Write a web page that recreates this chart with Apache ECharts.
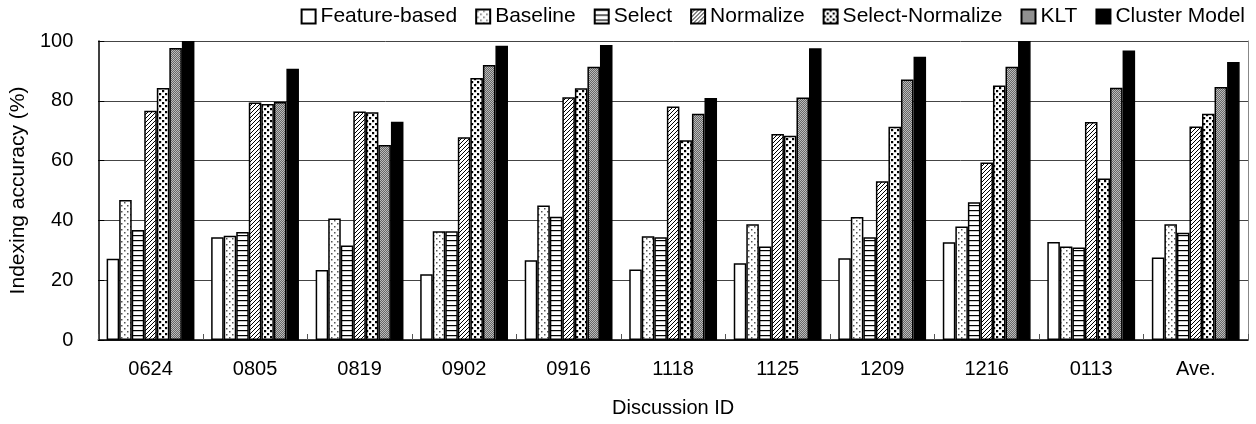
<!DOCTYPE html>
<html>
<head>
<meta charset="utf-8">
<script src="https://cdn.jsdelivr.net/npm/echarts@6/dist/echarts.min.js"></script>
<style>html,body{margin:0;padding:0;background:#fff;}#c{width:1256px;height:424px;}</style>
</head>
<body>
<div id="c"></div>
<script>
const categories = ['0624','0805','0819','0902','0916','1118','1125','1209','1216','0113','Ave.'];
const seriesNames = ['Feature-based','Baseline','Select','Normalize','Select-Normalize','KLT','Cluster Model'];
const featureBased    = [27.2, 34.4, 23.4, 22.0, 26.7, 23.6, 25.7, 27.3, 32.7, 32.8, 27.6];
const baseline        = [46.8, 34.9, 40.6, 36.4, 45.0, 34.7, 38.7, 41.1, 38.0, 31.3, 38.7];
const select          = [36.8, 36.1, 31.6, 36.4, 41.2, 34.4, 31.3, 34.4, 46.1, 30.9, 35.9];
const normalize       = [76.7, 79.4, 76.4, 67.8, 81.2, 78.1, 68.9, 53.1, 59.4, 72.9, 71.4];
const selectNormalize = [84.3, 78.9, 76.2, 87.6, 84.2, 66.8, 68.3, 71.3, 85.1, 54.0, 75.7];
const klt             = [97.7, 79.6, 65.2, 92.0, 91.4, 75.7, 81.1, 87.1, 91.4, 84.4, 84.6];
const clusterModel    = [100, 90.7, 73.0, 98.4, 98.7, 80.9, 97.6, 94.7, 100, 96.8, 93.0];
const yTicks = [0, 20, 40, 60, 80, 100];

function tile(w, h, draw) {
  const c = document.createElement('canvas');
  c.width = w; c.height = h;
  const g = c.getContext('2d');
  g.fillStyle = '#fff'; g.fillRect(0, 0, w, h);
  draw(g);
  return { image: c, repeat: 'repeat' };
}
const patterns = [
  '#ffffff',
  tile(6, 6, g => { g.fillStyle = '#555'; g.fillRect(1, 1, 1.5, 1.5); g.fillRect(4, 4, 1.5, 1.5); }),
  tile(4, 5, g => { g.fillStyle = '#000'; g.fillRect(0, 0, 4, 1.2); }),
  tile(4, 4, g => { g.strokeStyle = '#000'; g.lineWidth = 1; g.beginPath(); g.moveTo(-1, 5); g.lineTo(5, -1); g.moveTo(-1, 1); g.lineTo(1, -1); g.moveTo(3, 5); g.lineTo(5, 3); g.stroke(); }),
  tile(6, 6, g => { g.fillStyle = '#000'; g.fillRect(0, 0, 2.2, 2.2); g.fillRect(3, 3, 2.2, 2.2); }),
  tile(2, 2, g => { g.fillStyle = '#666'; g.fillRect(0, 0, 2, 2); g.fillStyle = '#bbb'; g.fillRect(0, 0, 1, 1); g.fillRect(1, 1, 1, 1); }),
  '#000000'
];
const values = [featureBased, baseline, select, normalize, selectNormalize, klt, clusterModel];

const chart = echarts.init(document.getElementById('c'), null, { renderer: 'canvas' });
const font = '"Liberation Sans", Arial, sans-serif';
chart.setOption({
  animation: false,
  textStyle: { fontFamily: font },
  legend: {
    top: 1, right: 6,
    itemWidth: 14, itemHeight: 14, itemGap: 18,
    textStyle: { fontSize: 21, color: '#000', fontFamily: font, padding: [0, 0, 0, 0] },
    data: seriesNames.map(n => ({ name: n, icon: 'rect' }))
  },
  grid: { left: 97, right: 8, top: 41, bottom: 84, containLabel: false },
  xAxis: {
    type: 'category', data: categories,
    name: 'Discussion ID', nameLocation: 'middle', nameGap: 58,
    nameTextStyle: { fontSize: 20, color: '#000', fontFamily: font },
    axisLine: { lineStyle: { color: '#000', width: 1.5 } },
    axisTick: { show: true, inside: true, length: 6, lineStyle: { color: '#555' } },
    axisLabel: { fontSize: 20, color: '#000', margin: 19, fontFamily: font }
  },
  yAxis: [{
    type: 'value', min: 0, max: 100, interval: 20,
    name: 'Indexing accuracy (%)', nameLocation: 'middle', nameGap: 69,
    nameTextStyle: { fontSize: 21, color: '#000', fontFamily: font },
    axisLine: { show: true, lineStyle: { color: '#000', width: 1.5 } },
    axisTick: { show: true, inside: true, length: 6, lineStyle: { color: '#000' } },
    axisLabel: { fontSize: 20, color: '#000', margin: 25, fontFamily: font,
      formatter: v => yTicks.includes(v) ? String(v) : '' },
    splitLine: { show: true, lineStyle: { color: '#444', width: 1 } }
  }, {
    type: 'value', min: 0, max: 100, interval: 20, position: 'right',
    axisLine: { show: true, lineStyle: { color: '#888', width: 1 } },
    axisTick: { show: false }, axisLabel: { show: false }, splitLine: { show: false }
  }],
  series: seriesNames.map((n, i) => ({
    name: n, type: 'bar', data: values[i],
    barGap: '0%', barCategoryGap: '16%',
    itemStyle: { color: patterns[i], borderColor: '#000', borderWidth: 1.5 }
  }))
});
</script>
</body>
</html>
